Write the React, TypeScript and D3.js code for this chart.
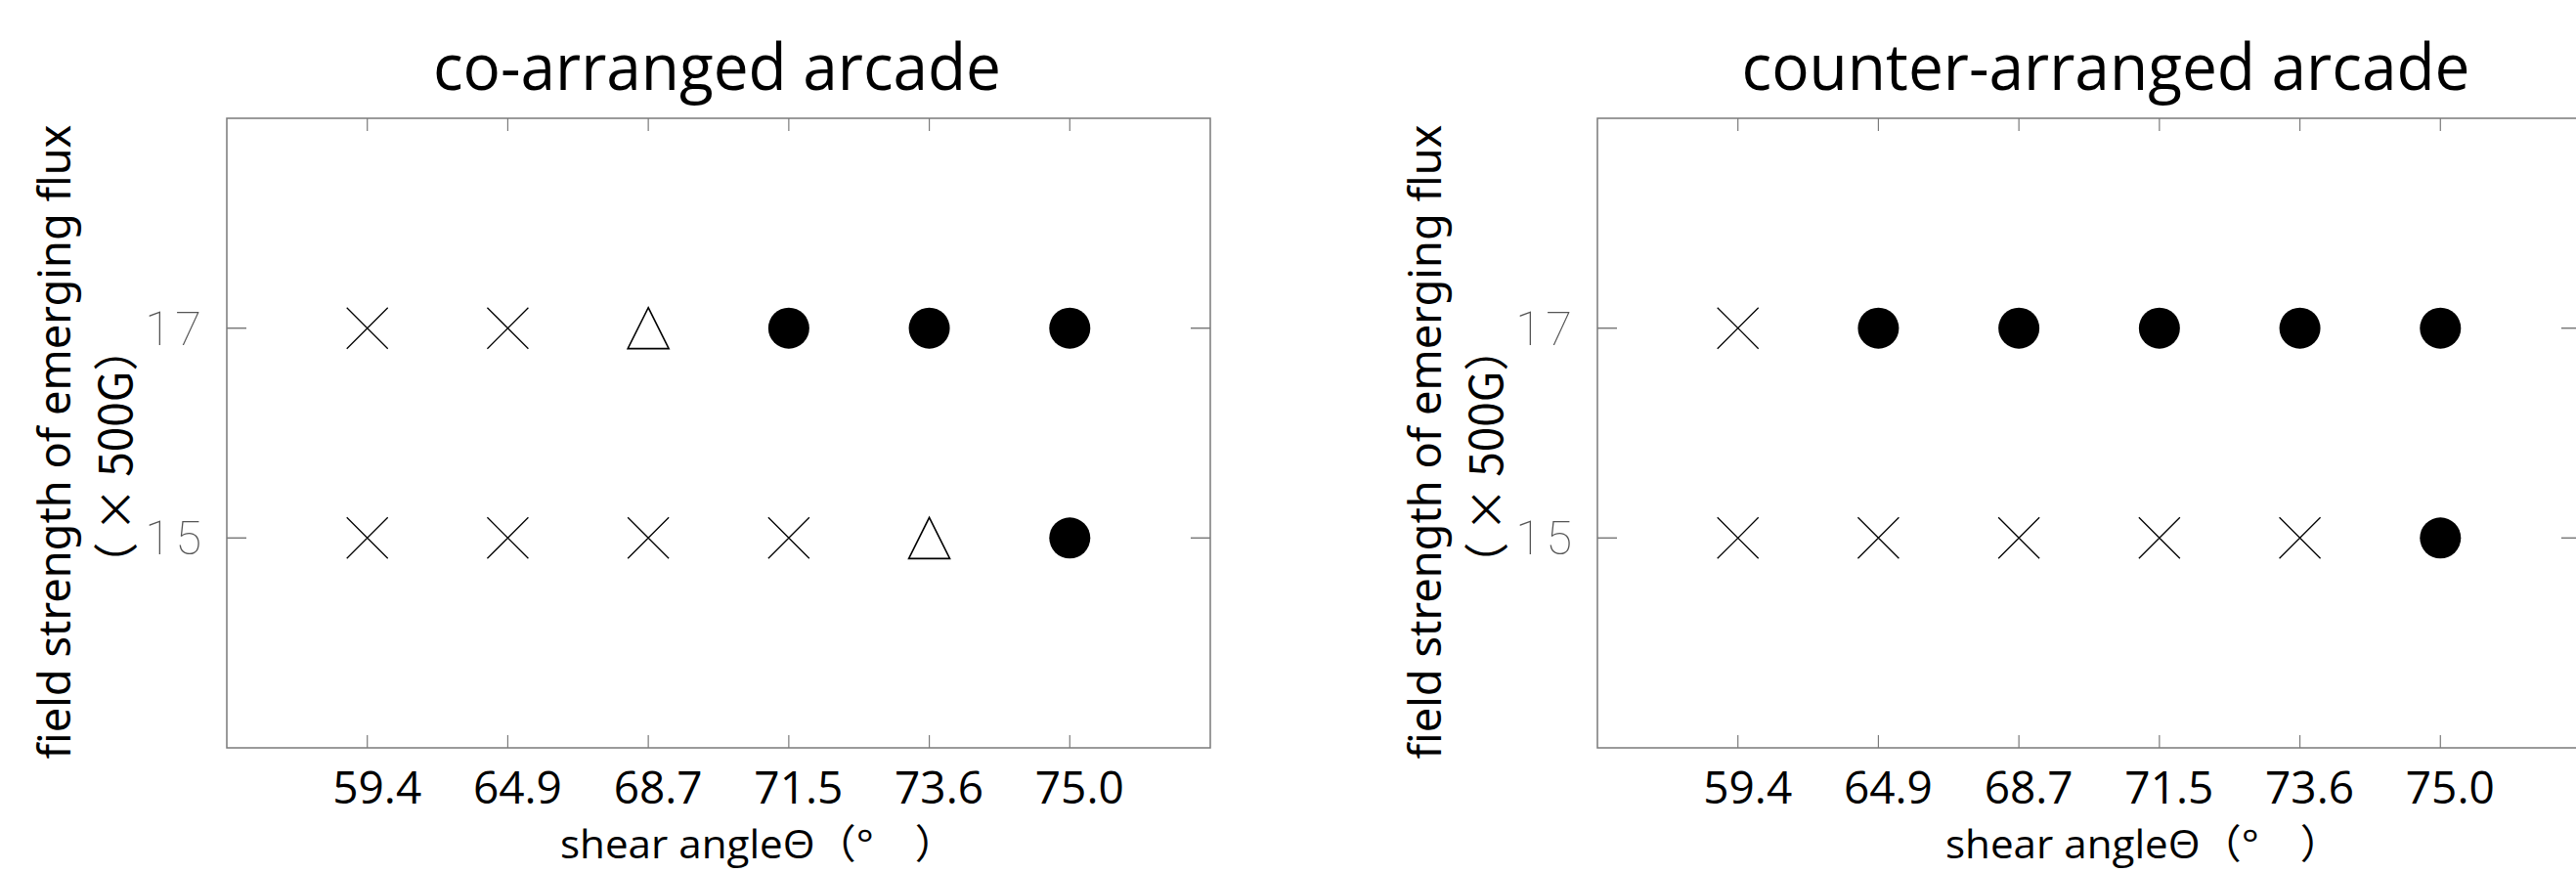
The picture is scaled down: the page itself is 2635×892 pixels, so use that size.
import React from 'react'
import * as d3 from 'd3'

// shear angle categories (x) and field strength levels (y, x500G)
const categories = ['59.4', '64.9', '68.7', '71.5', '73.6', '75.0']
const yTicks = [15, 17]
const yDomain = [13, 19]

// marker per category: x = no eruption, tri = partial, dot = eruption
const coArranged17 = ['x', 'x', 'tri', 'dot', 'dot', 'dot']
const coArranged15 = ['x', 'x', 'x', 'x', 'tri', 'dot']
const counterArranged17 = ['x', 'dot', 'dot', 'dot', 'dot', 'dot']
const counterArranged15 = ['x', 'x', 'x', 'x', 'x', 'dot']

const titles = ['co-arranged arcade', 'counter-arranged arcade']
const xAxisLabel = 'shear angleΘ（°　）'
const yAxisLabel = ['field strength of emerging flux', '（ × 500G）']

const panels = [
  { title: titles[0], rows: [{ level: 17, marks: coArranged17 }, { level: 15, marks: coArranged15 }], left: 232, titleDx: -1.5, titleLen: 581, xLabX: 341 },
  { title: titles[1], rows: [{ level: 17, marks: counterArranged17 }, { level: 15, marks: counterArranged15 }], left: 1634, titleDx: 17, titleLen: 745, xLabX: 356 },
]

const W = 2635
const H = 892
const top = 121
const pw = 1006
const ph = 644
const R = 21
const frameColor = '#7a7a7a'

const markPath = (kind: string) => {
  const p = d3.path()
  if (kind === 'x') {
    p.moveTo(-R, -R); p.lineTo(R, R)
    p.moveTo(R, -R); p.lineTo(-R, R)
  } else {
    p.moveTo(0, -R); p.lineTo(R, R); p.lineTo(-R, R); p.closePath()
  }
  return p.toString()
}

const Panel = ({ cfg }: any) => {
  const x = d3.scalePoint().domain(categories).range([cfg.left, cfg.left + pw]).padding(1)
  const y = d3.scaleLinear().domain(yDomain).range([top + ph, top])
  const right = cfg.left + pw
  const bottom = top + ph
  const cx = cfg.left + pw / 2
  const cy = top + ph / 2

  return (
    <g>
      <text x={cx + cfg.titleDx} y={92} textAnchor="middle" fontFamily="'Open Sans', sans-serif" fontSize={65}
        textLength={cfg.titleLen} lengthAdjust="spacingAndGlyphs" fill="#000">{cfg.title}</text>

      <rect x={cfg.left} y={top} width={pw} height={ph} fill="none" stroke={frameColor} strokeWidth={1.5} />

      {categories.map(c => (
        <g key={c}>
          <line x1={x(c)} x2={x(c)} y1={bottom} y2={bottom - 13} stroke={frameColor} strokeWidth={1.2} />
          <line x1={x(c)} x2={x(c)} y1={top} y2={top + 13} stroke={frameColor} strokeWidth={1.2} />
          <text x={(x(c) as number) + 10} y={822} textAnchor="middle" fontFamily="'Open Sans', sans-serif" fontSize={46} fill="#000">{c}</text>
        </g>
      ))}

      {yTicks.map(t => (
        <g key={t}>
          <line x1={cfg.left} x2={cfg.left + 20} y1={y(t)} y2={y(t)} stroke={frameColor} strokeWidth={1.5} />
          <line x1={right} x2={right - 20} y1={y(t)} y2={y(t)} stroke={frameColor} strokeWidth={1.5} />
          <text x={cfg.left - 22} y={y(t) + 17} textAnchor="end" fontFamily="Roboto, sans-serif" fontWeight={100} fontSize={49} letterSpacing={4} fill="#555">{t}</text>
        </g>
      ))}

      {cfg.rows.map((row: any) => row.marks.map((m: string, i: number) => {
        const px = x(categories[i]) as number
        const py = y(row.level)
        if (m === 'dot') return <circle key={row.level + '-' + i} cx={px} cy={py} r={R} fill="#000" />
        return (
          <path key={row.level + '-' + i} transform={`translate(${px},${py})`} d={markPath(m)}
            fill={m === 'tri' ? '#fff' : 'none'} stroke="#000" strokeWidth={m === 'tri' ? 1.6 : 1.3} />
        )
      }))}

      <text x={cfg.left + cfg.xLabX} y={878} fontFamily="'Open Sans', 'Noto Sans CJK JP', sans-serif" fontSize={41}
        textLength={405} lengthAdjust="spacingAndGlyphs" fill="#000">{xAxisLabel}</text>

      <text transform={`translate(${cfg.left - 160},${cy + 9}) rotate(-90)`} textAnchor="middle" fontFamily="'Noto Sans', sans-serif"
        fontSize={46} textLength={649} lengthAdjust="spacingAndGlyphs" fill="#000">{yAxisLabel[0]}</text>
      <text transform={`translate(${cfg.left - 97},${cy + 24}) rotate(-90)`} textAnchor="middle" fontFamily="'Noto Sans CJK JP', sans-serif"
        fontSize={46} fill="#000">{yAxisLabel[1]}</text>
    </g>
  )
}

const App = () => {
  return (
    <svg width={W} height={H} style={{ position: 'absolute', left: 0, top: 0, background: '#fff' }}>
      <rect width={W} height={H} fill="#fff" />
      {panels.map(p => <Panel key={p.title} cfg={p} />)}
    </svg>
  )
}

export default App
